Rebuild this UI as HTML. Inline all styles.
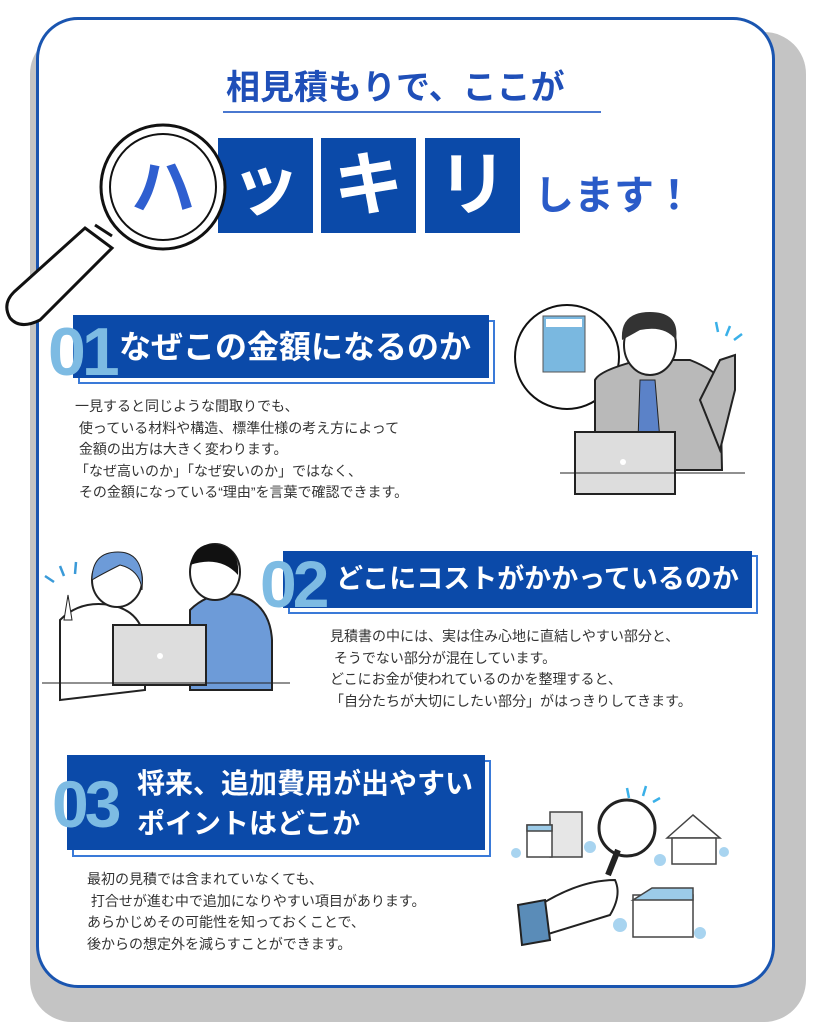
<!DOCTYPE html>
<html><head><meta charset="utf-8">
<style>
body{margin:0;width:819px;height:1024px;background:#fff;position:relative;overflow:hidden;font-family:"Liberation Sans","Noto Sans CJK JP",sans-serif}
.a{position:absolute}
.shadow{left:30px;top:32px;width:776px;height:990px;background:#c4c4c4;border-radius:42px}
.card{left:36px;top:17px;width:733px;height:965px;background:#fff;border:3px solid #1a55b0;border-radius:42px}
.h{font-weight:bold;color:#fff;white-space:nowrap}
.box{background:#0b4aa9}
.ol{border:2px solid #3a7ad8;background:#fff}
.num{color:#7dbbe3;font-weight:bold;font-family:"Liberation Sans",sans-serif;letter-spacing:-4px}
.t{font-size:14px;color:#333;line-height:21.5px;white-space:pre}
.kata{background:#0b4aa9;color:#fff;font-weight:bold;font-size:70px;text-align:center;line-height:95px;width:95px;height:95px;top:138px}
</style></head><body>
<div class="a shadow"></div>
<div class="a card"></div>

<div class="a" style="left:226px;top:60px;font-size:34px;font-weight:bold;color:#1f4fb8;white-space:nowrap;letter-spacing:0px">相見積もりで、ここが</div>
<div class="a" style="left:223px;top:111px;width:378px;height:2px;background:#4a78d0"></div>

<div class="a kata" style="left:218px">ッ</div>
<div class="a kata" style="left:321px">キ</div>
<div class="a kata" style="left:425px">リ</div>
<div class="a" style="left:534px;top:163px;font-size:40px;font-weight:bold;color:#2a5bc8;white-space:nowrap">します！</div>

<svg class="a" style="left:0;top:0" width="819" height="1024">
 <g stroke="#111" fill="#fff" stroke-width="3">
  <path d="M85 228 L112 248 L40 320 Q20 330 10 318 Q2 304 14 292 Z"/>
  <path d="M95 225 L112 236" />
  <circle cx="163" cy="187" r="62"/>
  <circle cx="163" cy="187" r="53" stroke-width="2"/>
 </g>
 <text x="163" y="210" font-size="64" font-weight="bold" fill="#2f5fd0" text-anchor="middle" font-family="Noto Sans CJK JP,sans-serif">ハ</text>

 <circle cx="567" cy="357" r="52" fill="#fff" stroke="#111" stroke-width="2"/>
 <rect x="543" y="316" width="42" height="56" fill="#7ab8e0" stroke="#555"/>
 <rect x="546" y="319" width="36" height="8" fill="#fff"/>
 <path d="M595 380 Q600 370 640 360 L690 360 Q715 370 720 380 L722 470 L595 470 Z" fill="#b9b9b9" stroke="#222" stroke-width="2"/>
 <path d="M640 380 L655 380 L660 440 L648 450 L638 440 Z" fill="#5b82c8" stroke="#222"/>
 <ellipse cx="650" cy="345" rx="26" ry="30" fill="#fff" stroke="#222" stroke-width="2"/>
 <path d="M622 340 Q620 312 650 312 Q680 312 676 340 Q665 325 640 330 Z" fill="#333"/>
 <path d="M700 400 L720 360 L735 355 L735 390 L720 450 Z" fill="#b9b9b9" stroke="#222" stroke-width="2"/>
 <rect x="575" y="432" width="100" height="62" fill="#ddd" stroke="#222" stroke-width="2"/>
 <circle cx="623" cy="462" r="3" fill="#fff"/>
 <path d="M560 473 L745 473" stroke="#222"/>
 <g stroke="#3ab0e8" stroke-width="2.5"><path d="M716 322 L718 332 M730 326 L726 336 M742 334 L734 340"/></g>

 <path d="M60 700 L60 620 Q80 600 110 605 Q140 610 145 640 L145 690 Z" fill="#fff" stroke="#222" stroke-width="2"/>
 <ellipse cx="117" cy="580" rx="25" ry="27" fill="#fff" stroke="#222" stroke-width="2"/>
 <path d="M92 580 Q92 552 118 552 Q145 552 142 590 Q140 570 120 565 Q100 575 92 580 Z" fill="#6d9bd8" stroke="#222"/>
 <path d="M64 620 L68 595 L72 620 Z" fill="#fff" stroke="#222"/>
 <path d="M190 690 L190 610 Q210 590 240 595 Q270 605 272 640 L272 690 Z" fill="#6d9bd8" stroke="#222" stroke-width="2"/>
 <ellipse cx="215" cy="572" rx="25" ry="28" fill="#fff" stroke="#222" stroke-width="2"/>
 <path d="M190 565 Q195 540 220 545 Q240 550 238 575 Q220 555 190 565 Z" fill="#111"/>
 <rect x="113" y="625" width="93" height="60" fill="#ddd" stroke="#222" stroke-width="2"/>
 <circle cx="160" cy="656" r="3" fill="#fff"/>
 <path d="M42 683 L290 683" stroke="#222"/>
 <g stroke="#3a9ad8" stroke-width="2.5"><path d="M45 576 L54 582 M60 566 L64 576 M76 562 L75 574"/></g>

 <g stroke="#444" stroke-width="1.5">
  <rect x="550" y="812" width="32" height="45" fill="#e6e6e6"/>
  <rect x="527" y="825" width="25" height="32" fill="#fff"/>
  <rect x="527" y="825" width="25" height="6" fill="#9ccbe8"/>
  <path d="M667 838 L693 815 L720 838 Z" fill="#fff"/>
  <rect x="672" y="838" width="44" height="26" fill="#fff"/>
  <rect x="633" y="895" width="60" height="42" fill="#fff"/>
  <path d="M633 900 L652 888 L693 888 L693 900 Z" fill="#9ccbe8"/>
 </g>
 <circle cx="627" cy="828" r="28" fill="#fff" stroke="#222" stroke-width="3"/>
 <path d="M618 850 L608 875" stroke="#222" stroke-width="6"/>
 <path d="M540 905 Q580 880 615 880 Q622 895 610 915 L545 935 Z" fill="#fff" stroke="#222" stroke-width="2"/>
 <path d="M518 905 L545 900 L550 940 L522 945 Z" fill="#5a8cb8" stroke="#222" stroke-width="2"/>
 <g stroke="#3ab0e8" stroke-width="2.5"><path d="M627 788 L629 798 M646 786 L643 796 M660 798 L653 802"/></g>
 <g fill="#a8d4f0"><circle cx="516" cy="853" r="5"/><circle cx="590" cy="847" r="6"/><circle cx="660" cy="860" r="6"/><circle cx="724" cy="852" r="5"/><circle cx="620" cy="925" r="7"/><circle cx="700" cy="933" r="6"/></g>
</svg>

<div class="a ol" style="left:78px;top:320px;width:413px;height:60px"></div>
<div class="a box" style="left:73px;top:315px;width:416px;height:63px"></div>
<div class="a num" style="left:48px;top:314px;font-size:68px;line-height:76px">01</div>
<div class="a h" style="left:119px;top:325px;font-size:32px;line-height:44px">なぜこの金額になるのか</div>
<div class="a t" style="left:75px;top:396px">一見すると同じような間取りでも、
 使っている材料や構造、標準仕様の考え方によって
 金額の出方は大きく変わります。
「なぜ高いのか」「なぜ安いのか」ではなく、
 その金額になっている“理由”を言葉で確認できます。</div>

<div class="a ol" style="left:288px;top:555px;width:466px;height:55px"></div>
<div class="a box" style="left:283px;top:551px;width:469px;height:57px"></div>
<div class="a num" style="left:260px;top:548px;font-size:66px;line-height:72px">02</div>
<div class="a h" style="left:336px;top:559px;font-size:27px;line-height:40px">どこにコストがかかっているのか</div>
<div class="a t" style="left:330px;top:626px">見積書の中には、実は住み心地に直結しやすい部分と、
 そうでない部分が混在しています。
どこにお金が使われているのかを整理すると、
「自分たちが大切にしたい部分」がはっきりしてきます。</div>

<div class="a ol" style="left:72px;top:760px;width:415px;height:93px"></div>
<div class="a box" style="left:67px;top:755px;width:418px;height:95px"></div>
<div class="a num" style="left:52px;top:768px;font-size:66px;line-height:72px">03</div>
<div class="a h" style="left:137px;top:764px;font-size:28px;line-height:40px">将来、追加費用が出やすい<br>ポイントはどこか</div>
<div class="a t" style="left:87px;top:869px">最初の見積では含まれていなくても、
 打合せが進む中で追加になりやすい項目があります。
あらかじめその可能性を知っておくことで、
後からの想定外を減らすことができます。</div>
</body></html>
